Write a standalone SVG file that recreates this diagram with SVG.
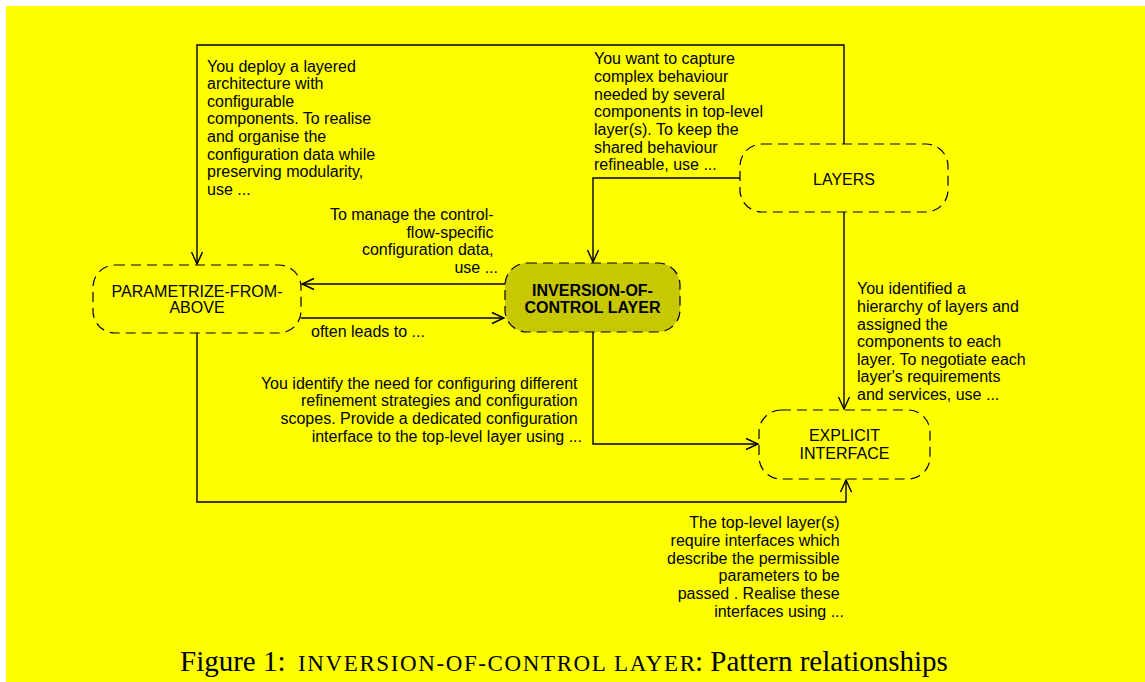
<svg xmlns="http://www.w3.org/2000/svg" width="1145" height="682" viewBox="0 0 1145 682">
<style>
.bg{fill:#ffff00}
.node{fill:#ffff00;stroke:#000;stroke-width:1.2;stroke-dasharray:10 6}
.main{fill:#c8c800}
.lbl{font-family:"Liberation Sans",Arial,sans-serif;font-size:16px;fill:#000}
.nl{font-family:"Liberation Sans",Arial,sans-serif;font-size:16px;fill:#000;text-anchor:middle}
.b{font-weight:bold}
.r{text-anchor:end}
.conn{fill:none;stroke:#000;stroke-width:1.4}
.cap{font-family:"Liberation Serif","Times New Roman",serif;font-size:29px;fill:#000}
</style>
<defs>
<marker id="arr" markerUnits="userSpaceOnUse" markerWidth="16" markerHeight="14" viewBox="0 0 16 14" refX="14" refY="7" orient="auto">
<path d="M2,1.5 L14,7 L2,12.5" fill="none" stroke="#000" stroke-width="1.4"/>
</marker>
</defs>
<rect class="bg" x="6" y="6" width="1139" height="676"/>

<g id="connectors">
<path class="conn" d="M844,144 V45 H197 V264" marker-end="url(#arr)"/>
<path class="conn" d="M740,178 H593 V262" marker-end="url(#arr)"/>
<path class="conn" d="M505,284 H302" marker-end="url(#arr)"/>
<path class="conn" d="M301,318 H504" marker-end="url(#arr)"/>
<path class="conn" d="M593,332 V444 H758" marker-end="url(#arr)"/>
<path class="conn" d="M844,212 V409" marker-end="url(#arr)"/>
<path class="conn" d="M197,333 V502 H846 V480" marker-end="url(#arr)"/>
</g>

<g id="node-parametrize">
<rect class="node" x="93" y="265" width="208" height="68" rx="22"/>
<text class="nl" x="197" y="296.5" textLength="171" lengthAdjust="spacingAndGlyphs">PARAMETRIZE-FROM-</text>
<text class="nl" x="197" y="313.3">ABOVE</text>
</g>

<g id="node-ioc">
<rect class="node main" x="505" y="263" width="175" height="69" rx="22"/>
<text class="nl b" x="592.5" y="295.5">INVERSION-OF-</text>
<text class="nl b" x="592.5" y="313.3">CONTROL LAYER</text>
</g>

<g id="node-layers">
<rect class="node" x="740" y="144" width="208" height="68" rx="22"/>
<text class="nl" x="844" y="185">LAYERS</text>
</g>

<g id="node-explicit">
<rect class="node" x="759" y="410" width="171" height="69" rx="22"/>
<text class="nl" x="844.5" y="441">EXPLICIT</text>
<text class="nl" x="844.5" y="459">INTERFACE</text>
</g>

<g id="labels">
<text class="lbl">
<tspan x="207" y="71.5">You deploy a layered</tspan>
<tspan x="207" y="89.1">architecture with</tspan>
<tspan x="207" y="106.7">configurable</tspan>
<tspan x="207" y="124.3">components. To realise</tspan>
<tspan x="207" y="141.9">and organise the</tspan>
<tspan x="207" y="159.5">configuration data while</tspan>
<tspan x="207" y="177.1">preserving modularity,</tspan>
<tspan x="207" y="194.7">use ...</tspan>
</text>
<text class="lbl">
<tspan x="594" y="64.3">You want to capture</tspan>
<tspan x="594" y="82">complex behaviour</tspan>
<tspan x="594" y="99.7">needed by several</tspan>
<tspan x="594" y="117.3">components in top-level</tspan>
<tspan x="594" y="135">layer(s). To keep the</tspan>
<tspan x="594" y="152.6">shared behaviour</tspan>
<tspan x="594" y="170.3">refineable, use ...</tspan>
</text>
<text class="lbl r">
<tspan x="498" y="220">To manage the control-</tspan>
<tspan x="498" y="237.7">flow-specific</tspan>
<tspan x="498" y="255.3">configuration data,</tspan>
<tspan x="498" y="273">use ...</tspan>
</text>
<text class="lbl" x="311" y="337">often leads to ...</text>
<text class="lbl">
<tspan x="857" y="294.3">You identified a</tspan>
<tspan x="857" y="312">hierarchy of layers and</tspan>
<tspan x="857" y="329.5">assigned the</tspan>
<tspan x="857" y="347.1">components to each</tspan>
<tspan x="857" y="364.7">layer. To negotiate each</tspan>
<tspan x="857" y="382.3">layer's requirements</tspan>
<tspan x="857" y="400">and services, use ...</tspan>
</text>
<text class="lbl r">
<tspan x="582" y="388.7">You identify the need for configuring different</tspan>
<tspan x="582" y="406.3">refinement strategies and configuration</tspan>
<tspan x="582" y="424">scopes. Provide a dedicated configuration</tspan>
<tspan x="582" y="441.7">interface to the top-level layer using ...</tspan>
</text>
<text class="lbl r">
<tspan x="844" y="528.3">The top-level layer(s)</tspan>
<tspan x="844" y="546">require interfaces which</tspan>
<tspan x="844" y="563.7">describe the permissible</tspan>
<tspan x="844" y="581.3">parameters to be</tspan>
<tspan x="844" y="599">passed . Realise these</tspan>
<tspan x="844" y="616.7">interfaces using ...</tspan>
</text>
</g>

<text class="cap" y="671"><tspan x="180">Figure 1:</tspan><tspan x="298" font-size="23" textLength="397" lengthAdjust="spacing">INVERSION-OF-CONTROL LAYER</tspan><tspan x="695">: Pattern relationships</tspan></text>
</svg>
